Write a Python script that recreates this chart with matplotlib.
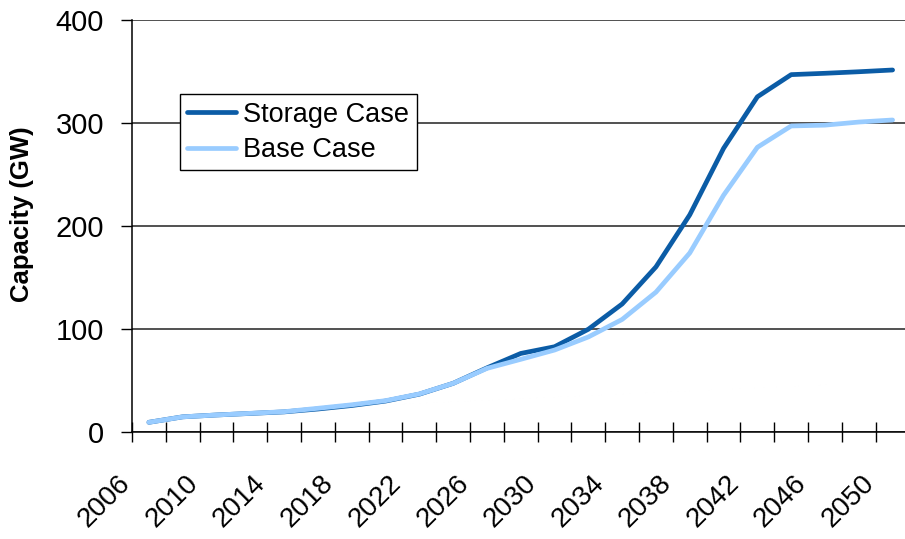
import matplotlib
matplotlib.use("Agg")
import matplotlib.pyplot as plt
from matplotlib.transforms import ScaledTranslation

plt.rcParams['font.family'] = ['Liberation Sans', 'DejaVu Sans']

years = [2006, 2008, 2010, 2012, 2014, 2016, 2018, 2020, 2022, 2024, 2026, 2028,
         2030, 2032, 2034, 2036, 2038, 2040, 2042, 2044, 2046, 2048, 2050]
storage_case = [9.7, 15.0, 16.8, 18.3, 19.8, 22.6, 26.0, 30.3, 37.0, 47.5, 62.5, 76.5,
                83.0, 100.0, 124.5, 160.5, 211.0, 275.5, 325.5, 347.0, 348.3, 349.8, 351.5]
base_case = [9.7, 15.0, 16.8, 18.4, 20.0, 23.3, 26.7, 30.7, 37.2, 47.5, 62.0, 70.8,
             79.8, 92.5, 109.5, 136.0, 174.0, 230.0, 276.5, 297.2, 298.0, 301.0, 303.0]
label_years = years[::2]
y_ticks = [0, 100, 200, 300, 400]

W, H = 905, 539
fig = plt.figure(figsize=(W / 100, H / 100), dpi=100)
left, right, bottom, top = 132, 909.5, 432.3, 20
ax = fig.add_axes([left / W, 1 - bottom / H, (right - left) / W, (bottom - top) / H])

x = list(range(len(years)))
ax.plot(x, storage_case, color='#0B5CA6', lw=3.4, label='Storage Case', solid_capstyle='round', zorder=3)
ax.plot(x, base_case, color='#99CCFF', lw=3.4, label='Base Case', solid_capstyle='round', zorder=4)

ax.set_xlim(-0.5, len(years) - 0.5)
ax.set_ylim(0, 400)

# y axis
ax.set_yticks(y_ticks)
ax.set_yticklabels([str(v) for v in y_ticks])
ax.tick_params(axis='y', which='major', length=8, width=1.0, direction='out',
               pad=12, labelsize=21, color='black')
ax.yaxis.grid(True, color='#222222', lw=1.1)
ax.set_axisbelow(True)

# x axis: boundary ticks (inout), labels at category centres
ax.set_xticks([i - 0.5 for i in range(len(years) + 1)])
ax.set_xticklabels([])
ax.tick_params(axis='x', which='major', length=14, width=1.0, direction='inout', color='black')
label_pos = [years.index(yv) for yv in label_years]
ax.set_xticks(label_pos, minor=True)
ax.set_xticklabels([str(yv) for yv in label_years], minor=True)
ax.tick_params(axis='x', which='minor', length=0, pad=27, labelsize=20)
offset = ScaledTranslation(-13 / 100, 0, fig.dpi_scale_trans)
for lab in ax.get_xticklabels(minor=True):
    lab.set_rotation(45)
    lab.set_ha('right')
    lab.set_va('top')
    lab.set_transform(lab.get_transform() + offset)

for s in ['top', 'right']:
    ax.spines[s].set_visible(False)
for s in ['left', 'bottom']:
    ax.spines[s].set_color('black')
    ax.spines[s].set_linewidth(1.1)

ax.set_ylabel('Capacity (GW)', fontsize=18.5, fontweight='bold')
ax.yaxis.set_label_coords(-(132 - 34) / (right - left), (bottom - 214) / (bottom - top))

leg = ax.legend(loc='upper left', bbox_to_anchor=((180 - left) / (right - left), (bottom - 94.3) / (bottom - top)),
                borderaxespad=0, fontsize=19.5, frameon=True, fancybox=False, framealpha=1,
                edgecolor='black', handlelength=1.8, handletextpad=0.27, borderpad=0.27,
                labelspacing=0.35)
leg.get_frame().set_linewidth(1.0)
leg.set_zorder(10)

fig.savefig('out.png', dpi=100)
